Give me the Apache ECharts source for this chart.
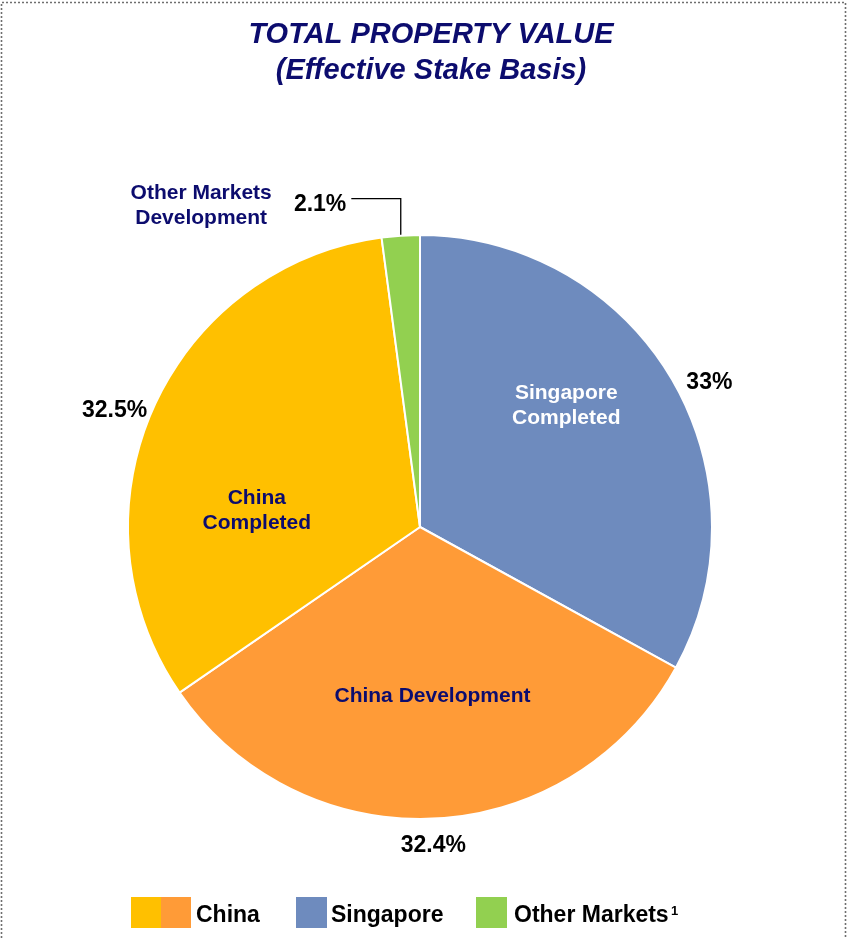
<!DOCTYPE html>
<html>
<head>
<meta charset="utf-8">
<title>Total Property Value</title>
<script src="https://cdn.jsdelivr.net/npm/echarts@6/dist/echarts.min.js"></script>
<style>
  html, body { margin: 0; padding: 0; background: #ffffff; }
  #chart { width: 847px; height: 938px; }
</style>
</head>
<body>
<div id="chart"></div>
<script>
// Portfolio split by segment, in percent, clockwise from 12 o'clock
const segments = ['Singapore\nCompleted', 'China Development', 'China\nCompleted', 'Other Markets\nDevelopment'];
const shares = [33, 32.4, 32.5, 2.1];
const segmentColors = ['#6E8BBE', '#FF9B37', '#FFC000', '#92D050'];
const segmentTextColors = ['#ffffff', '#0C0C6E', '#0C0C6E', '#0C0C6E'];

// Legend groups (China covers two segments)
const legendNames = ['China', 'Singapore', 'Other Markets'];
const legendColors = [['#FFC000', '#FF9B37'], ['#6E8BBE'], ['#92D050']];

const titleLines = ['TOTAL PROPERTY VALUE', '(Effective Stake Basis)'];

// label nudges relative to the library's default placement
const valueOffsets = [[10, 4], [-39, 27], [-1, 2], [0, 6]];
const nameOffsets = [[18, -45], [5, 20], [-27, 44], [-209, -173]];

const NAVY = '#0C0C6E';
const FONT = '"Liberation Sans", Arial, sans-serif';

const chart = echarts.init(document.getElementById('chart'), null, { renderer: 'canvas' });

const pieData = shares.map((v, i) => ({
  name: segments[i],
  value: v,
  itemStyle: { color: segmentColors[i] },
  label: { position: 'outside' },
  labelLine: i === 3
    ? { show: true, length: 37, length2: 47, lineStyle: { color: '#000', width: 1.3 } }
    : { show: false, length: 0, length2: 0 }
}));

const nameData = shares.map((v, i) => ({
  name: segments[i],
  value: v,
  label: { color: segmentTextColors[i] }
}));

// legend drawn as graphic swatches + text
const legendGraphics = [];
const legendX = [131, 296, 476];
const legendTextX = [196, 331, 514];
legendNames.forEach((nm, i) => {
  const cols = legendColors[i];
  const w = cols.length === 2 ? 30 : 31;
  cols.forEach((c, k) => {
    legendGraphics.push({
      type: 'rect', left: legendX[i] + k * w, top: 897,
      shape: { width: w + (k === 0 && cols.length === 2 ? 1 : 0), height: 31 },
      style: { fill: c }
    });
  });
  legendGraphics.push({
    type: 'text', x: legendTextX[i], y: 916,
    style: {
      text: nm, fill: '#000', font: 'bold 23px ' + FONT,
      textAlign: 'left', textVerticalAlign: 'middle'
    }
  });
});
// footnote marker on the last legend entry
legendGraphics.push({
  type: 'text', x: 671, y: 911,
  style: { text: '1', fill: '#000', font: 'bold 13px ' + FONT, textAlign: 'left', textVerticalAlign: 'middle' }
});

const option = {
  animation: false,
  backgroundColor: '#ffffff',
  graphic: [
    {
      type: 'polyline', silent: true,
      shape: { points: [[1.5, 938], [1.5, 2.5], [845.5, 2.5], [845.5, 938]] },
      style: { stroke: '#6f6f6f', lineWidth: 1.6, lineDash: [2, 2], fill: null }
    },
    {
      type: 'text', x: 431, y: 35,
      style: { text: titleLines[0], fill: NAVY, font: 'italic bold 29px ' + FONT, textAlign: 'center', textVerticalAlign: 'middle' }
    },
    {
      type: 'text', x: 431, y: 71,
      style: { text: titleLines[1], fill: NAVY, font: 'italic bold 29px ' + FONT, textAlign: 'center', textVerticalAlign: 'middle' }
    }
  ].concat(legendGraphics),
  series: [
    {
      type: 'pie',
      center: [420, 527],
      radius: [0, 292],
      startAngle: 90,
      clockwise: true,
      avoidLabelOverlap: false,
      silent: true,
      itemStyle: { borderColor: '#ffffff', borderWidth: 2 },
      label: {
        show: true,
        formatter: '{c}%',
        color: '#000',
        fontFamily: FONT,
        fontWeight: 'bold',
        fontSize: 23,
        distanceToLabelLine: 5
      },
      labelLayout: function (p) {
        const o = valueOffsets[p.dataIndex];
        if (p.dataIndex === 3 && p.labelLinePoints) {
          const pts = p.labelLinePoints;
          // keep the leader's rising segment vertical
          return {
            dx: o[0], dy: o[1],
            labelLinePoints: [
              [pts[0][0], pts[0][1]],
              [pts[0][0], pts[1][1]],
              [pts[2][0], pts[2][1]]
            ]
          };
        }
        return { dx: o[0], dy: o[1] };
      },
      emphasis: { disabled: true },
      data: pieData
    },
    {
      type: 'pie',
      center: [420, 527],
      radius: [0, 292],
      startAngle: 90,
      clockwise: true,
      avoidLabelOverlap: false,
      silent: true,
      z: 5,
      itemStyle: { color: 'rgba(0,0,0,0)', borderWidth: 0 },
      label: {
        show: true,
        position: 'inside',
        formatter: '{b}',
        fontFamily: FONT,
        fontWeight: 'bold',
        fontSize: 21,
        lineHeight: 25,
        align: 'center'
      },
      labelLine: { show: false },
      labelLayout: function (p) {
        const o = nameOffsets[p.dataIndex];
        return { dx: o[0], dy: o[1] };
      },
      emphasis: { disabled: true },
      data: nameData
    }
  ]
};

chart.setOption(option);
</script>
</body>
</html>
